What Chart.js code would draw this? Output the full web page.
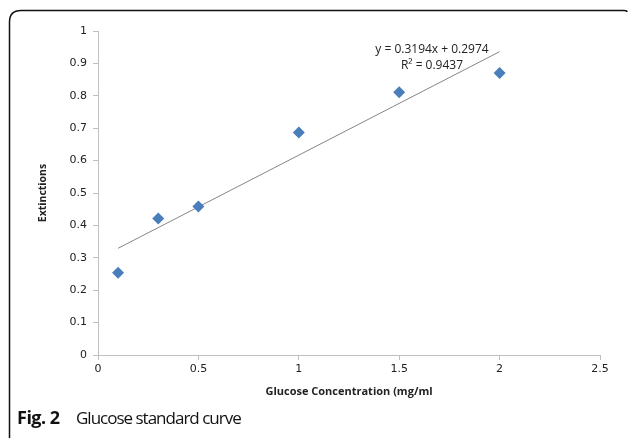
<!DOCTYPE html>
<html>
<head>
<meta charset="utf-8">
<script src="https://cdn.jsdelivr.net/npm/chart.js@4"></script>
<style>
  html, body { margin: 0; padding: 0; background: #fff; }
  canvas { display: block; }
</style>
</head>
<body>
<canvas id="glucoseCurve" width="629" height="438"></canvas>
<script>
// glucose standard curve

const concentrations = [0.1, 0.3, 0.5, 1, 1.5, 2]; // mg/ml
const extinctions = [0.254, 0.421, 0.458, 0.687, 0.811, 0.870];
const slope = 0.3194;
const intercept = 0.2974;
const trendX = [0.1, 2];
const xTicks = [0, 0.5, 1, 1.5, 2, 2.5];
const yTicks = [0, 0.1, 0.2, 0.3, 0.4, 0.5, 0.6, 0.7, 0.8, 0.9, 1];

const axisGrey = '#bfbfbf';
const tickFont = { family: 'DejaVu Sans', size: 11 };

// frame, caption and equation drawn straight on the canvas
const extras = {
  id: 'extras',
  afterDraw(chart) {
    const c = chart.ctx;
    c.save();
    c.strokeStyle = '#111';
    c.lineWidth = 1.5;
    c.beginPath();
    c.moveTo(9.5, 438);
    c.lineTo(9.5, 22);
    c.quadraticCurveTo(9.5, 10.5, 21, 10.5);
    c.lineTo(624, 10.5);
    c.quadraticCurveTo(627, 10.5, 627, 12);
    c.stroke();

    c.fillStyle = '#222';
    c.font = '12px "Open Sans"';
    c.textAlign = 'center';
    c.textBaseline = 'middle';
    c.fillText('y = 0.3194x + 0.2974', 432, 50);
    c.fillText('R² = 0.9437', 432, 66);

    c.textAlign = 'left';
    c.fillStyle = '#111';
    c.font = 'bold 18px "Open Sans"';
    c.letterSpacing = '-0.5px';
    c.fillText('Fig. 2', 17, 419);
    c.font = '17px "Open Sans"';
    c.letterSpacing = '-1px';
    c.fillText('Glucose standard curve', 76, 419);
    c.restore();
  }
};

const ctx = document.getElementById('glucoseCurve').getContext('2d');
new Chart(ctx, {
  type: 'scatter',
  data: {
    datasets: [{
      label: 'Extinctions',
      data: concentrations.map((x, i) => ({ x: x, y: extinctions[i] })),
      pointStyle: 'rectRot',
      pointRadius: 6,
      backgroundColor: '#4a7ebb',
      borderColor: '#4a7ebb',
      borderWidth: 0,
      order: 1
    }, {
      label: 'Linear',
      type: 'line',
      data: trendX.map(x => ({ x: x, y: slope * x + intercept })),
      borderColor: '#858585',
      borderWidth: 1,
      pointRadius: 0,
      fill: false,
      order: 2
    }]
  },
  options: {
    responsive: false,
    animation: false,
    devicePixelRatio: 1,
    layout: { padding: { left: 0, right: 29, top: 31, bottom: 38 } },
    plugins: {
      legend: { display: false },
      tooltip: { enabled: false }
    },
    scales: {
      x: {
        type: 'linear',
        min: 0, max: 2.5,
        afterBuildTicks: s => { s.ticks = xTicks.map(v => ({ value: v })); },
        afterFit: s => { s.height = 45; },
        grid: { drawOnChartArea: false, drawTicks: true, tickLength: 5, color: axisGrey },
        border: { color: axisGrey, width: 1 },
        ticks: { color: '#222', font: tickFont, padding: 3, autoSkip: false, maxRotation: 0, callback: v => String(v) },
        title: {
          display: true,
          text: 'Glucose Concentration (mg/ml',
          color: '#222',
          font: { family: 'Open Sans', size: 11, weight: 'bold' },
          padding: { top: 2, bottom: 2 }
        }
      },
      y: {
        type: 'linear',
        min: 0, max: 1,
        afterBuildTicks: s => { s.ticks = yTicks.map(v => ({ value: v })); },
        afterFit: s => { s.width = 98; },
        grid: { drawOnChartArea: false, drawTicks: true, tickLength: 5, color: axisGrey },
        border: { color: axisGrey, width: 1 },
        ticks: { color: '#222', font: tickFont, padding: 6, autoSkip: false, callback: v => String(v) },
        title: {
          display: true,
          text: 'Extinctions',
          color: '#222',
          font: { family: 'Open Sans', size: 10.5, weight: 'bold' },
          padding: { top: 37, bottom: 0 }
        }
      }
    }
  },
  plugins: [extras]
});
</script>
</body>
</html>
